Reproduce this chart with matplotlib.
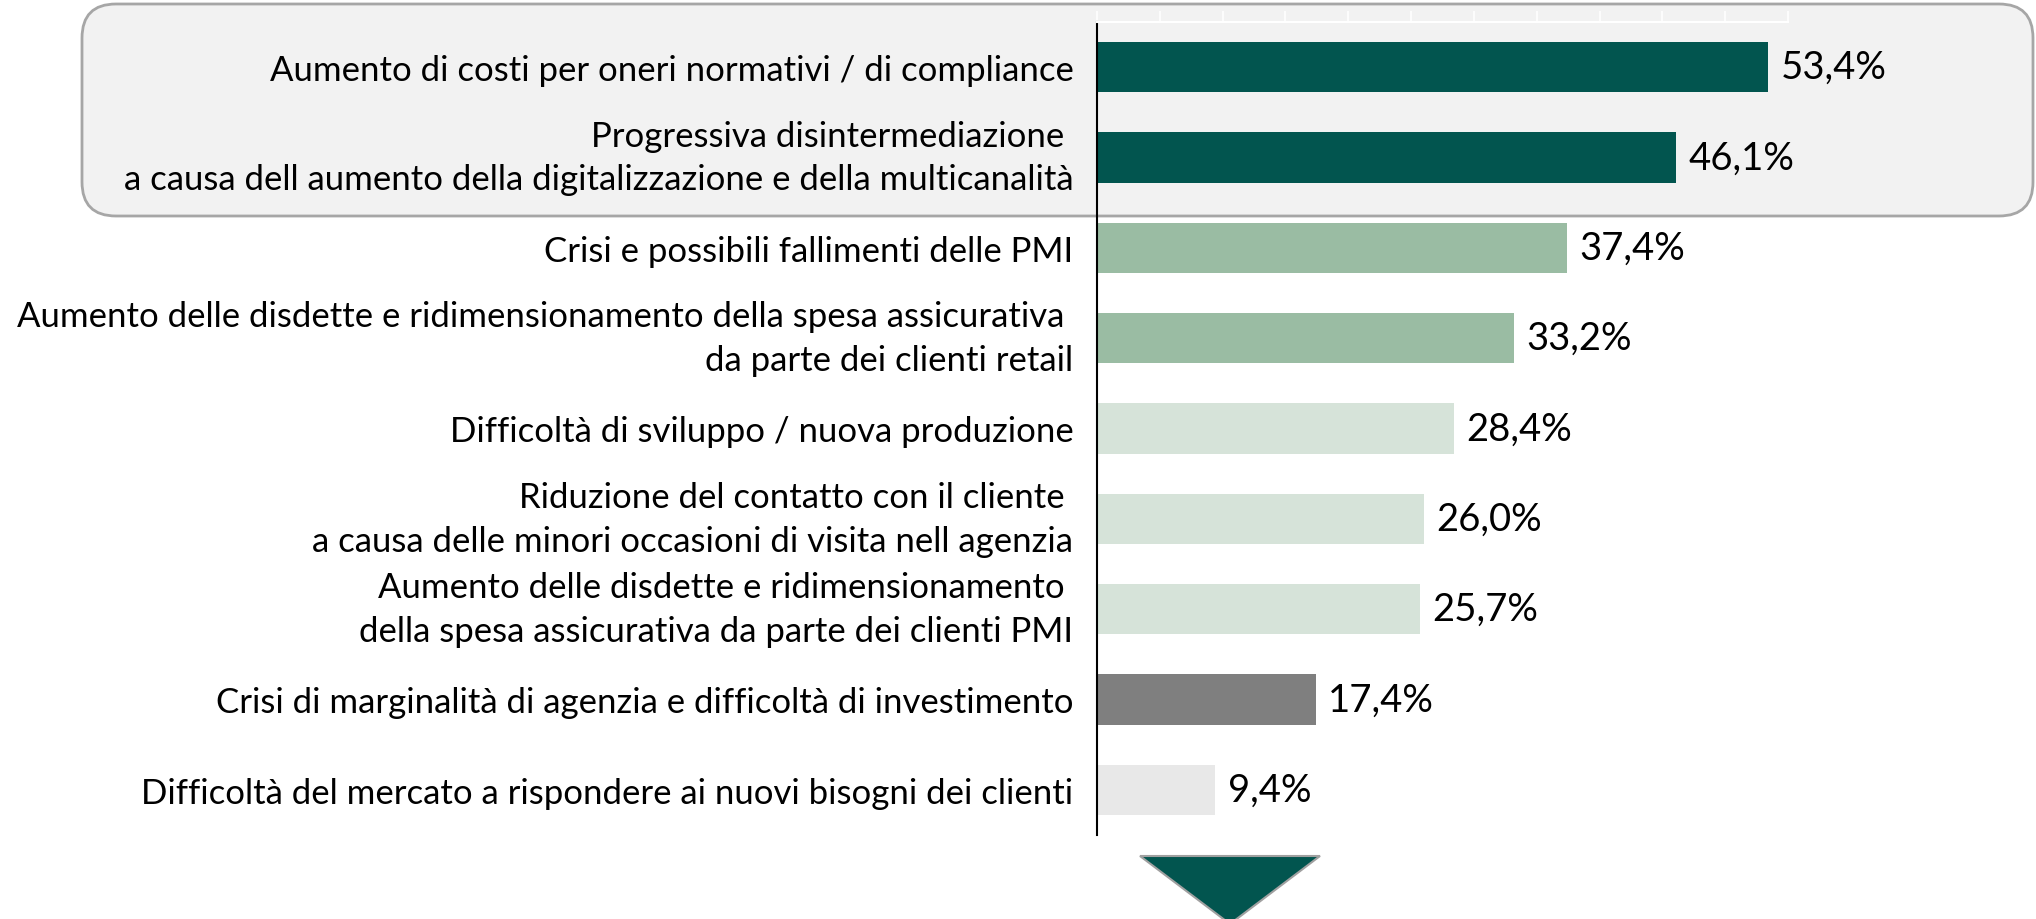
import matplotlib
matplotlib.use("Agg")
import matplotlib.pyplot as plt
from matplotlib.patches import FancyBboxPatch, Polygon

plt.rcParams['font.family'] = ['Lato', 'DejaVu Sans']

# data
categories = [
    "Aumento di costi per oneri normativi / di compliance",
    "Progressiva disintermediazione \na causa dell aumento della digitalizzazione e della multicanalità",
    "Crisi e possibili fallimenti delle PMI",
    "Aumento delle disdette e ridimensionamento della spesa assicurativa \nda parte dei clienti retail",
    "Difficoltà di sviluppo / nuova produzione",
    "Riduzione del contatto con il cliente \na causa delle minori occasioni di visita nell agenzia",
    "Aumento delle disdette e ridimensionamento \ndella spesa assicurativa da parte dei clienti PMI",
    "Crisi di marginalità di agenzia e difficoltà di investimento",
    "Difficoltà del mercato a rispondere ai nuovi bisogni dei clienti",
]
values = [53.4, 46.1, 37.4, 33.2, 28.4, 26.0, 25.7, 17.4, 9.4]
value_labels = ["53,4%", "46,1%", "37,4%", "33,2%", "28,4%", "26,0%", "25,7%", "17,4%", "9,4%"]
bar_colors = ["#02554F", "#02554F", "#9ABCA3", "#9ABCA3", "#D6E3D9",
              "#D6E3D9", "#D6E3D9", "#7F7F7F", "#E8E8E8"]

W, H = 2036, 920
fig = plt.figure(figsize=(W / 100, H / 100), dpi=100)

# background layer in pixel units (highlight box + arrow)
bg = fig.add_axes([0, 0, 1, 1], zorder=0)
bg.set_xlim(0, W)
bg.set_ylim(H, 0)
bg.axis("off")
box = FancyBboxPatch((82, 5), 2033 - 82, 217 - 5,
                     boxstyle="round,pad=0,rounding_size=34",
                     fc="#F2F2F2", ec="#A6A6A6", lw=2.0)
bg.add_patch(box)
tri = Polygon([(1140, 857), (1320, 857), (1230, 925)], closed=True,
              fc="#02554F", ec="#A0A0A0", lw=1.5)
bg.add_patch(tri)

ax = fig.add_axes([1097 / W, 1 - 836 / H, (1788 - 1097) / W, (836 - 23) / H], zorder=1)
ax.set_facecolor("none")

y = list(range(len(values)))
ax.barh(y, values, height=0.56, color=bar_colors, zorder=2)
for yi, v, lab in zip(y, values, value_labels):
    ax.annotate(lab, (v, yi), xytext=(9, 0), textcoords="offset points",
                va="center", ha="left", fontsize=27.5, color="black")

ax.set_ylim(len(values) - 0.5, -0.5)
ax.set_xlim(0, 55)
ax.set_yticks(y)
ax.set_yticklabels(categories, fontsize=25, linespacing=1.45)
for t in ax.get_yticklabels():
    if "\n" in t.get_text():
        t.set_va("center")
ax.tick_params(axis="y", length=0, pad=17)

ax.xaxis.tick_top()
ax.set_xticks(range(0, 56, 5))
ax.tick_params(axis="x", direction="out", length=8, width=1.2, color="white",
               labeltop=False, labelbottom=False)

for s in ["right", "bottom"]:
    ax.spines[s].set_visible(False)
ax.spines["top"].set_color("white")
ax.spines["top"].set_linewidth(1.5)
ax.spines["left"].set_color("black")
ax.spines["left"].set_linewidth(1.5)

fig.savefig("out.png", dpi=100)
